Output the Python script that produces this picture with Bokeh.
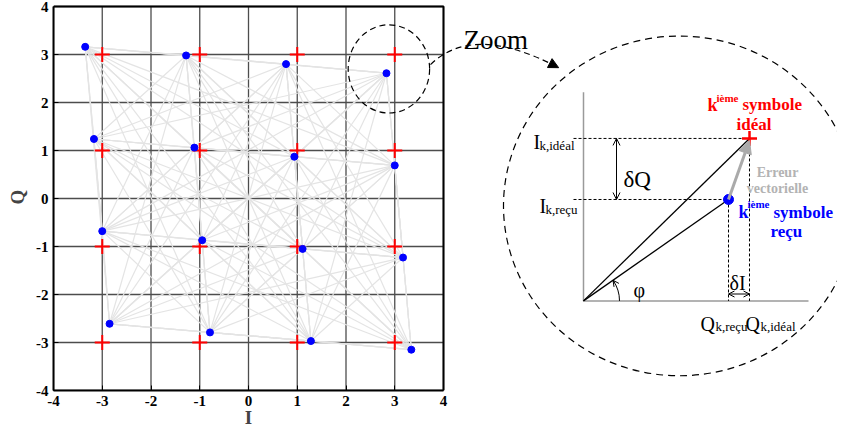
import math
from bokeh.plotting import figure
from bokeh.models import FixedTicker, Arrow, NormalHead, OpenHead
from bokeh.core.properties import value
from bokeh.embed import file_html
from bokeh.resources import INLINE

# ---------------- data ----------------
ticks = [-4, -3, -2, -1, 0, 1, 2, 3, 4]
tick_labels = ["-4", "-3", "-2", "-1", "0", "1", "2", "3", "4"]

ideal_I = [-3, -1, 1, 3, -3, -1, 1, 3, -3, -1, 1, 3, -3, -1, 1, 3]
ideal_Q = [3, 3, 3, 3, 1, 1, 1, 1, -1, -1, -1, -1, -3, -3, -3, -3]

recv_I = [-3.35, -1.28, 0.77, 2.83, -3.17, -1.11, 0.94, 3.00,
          -3.00, -0.95, 1.11, 3.17, -2.85, -0.79, 1.28, 3.34]
recv_Q = [3.16, 2.98, 2.80, 2.61, 1.24, 1.06, 0.87, 0.69,
          -0.68, -0.87, -1.05, -1.23, -2.61, -2.79, -2.97, -3.15]

zoom_center = (2.88, 2.70)
zoom_size = (1.67, 1.84)

FONT = "Liberation Serif"

# ---------------- figure ----------------
W, H = 837, 432
BL, BT, BB = 53, 3, 42
SX = 390 / 8.0                      # px per unit horizontally
SY = (H - BT - BB - 3) / 8.0        # px per unit vertically
TOP_PAD = 3 / SY
x_end = -4 + (W - BL) / SX

p = figure(width=W, height=H, x_range=(-4, x_end), y_range=(-4, 4 + TOP_PAD),
           output_backend="svg", toolbar_location=None,
           min_border_left=BL, min_border_right=0, min_border_top=BT,
           min_border_bottom=BB)
p.outline_line_color = None
p.grid.visible = False
p.background_fill_color = "white"
p.border_fill_color = "white"

for ax in (p.xaxis[0], p.yaxis[0]):
    ax.ticker = FixedTicker(ticks=ticks)
    ax.major_label_overrides = {t: l for t, l in zip(ticks, tick_labels)}
    ax.bounds = (-4, 4)
    ax.major_label_text_font = FONT
    ax.major_label_text_font_style = "bold"
    ax.major_label_text_font_size = "15px"
    ax.major_label_text_color = "black"
    ax.major_tick_in = 5
    ax.major_tick_out = 0
    ax.major_tick_line_color = "black"
    ax.minor_tick_line_color = None
    ax.axis_line_color = "black"
    ax.axis_line_width = 2
    ax.axis_label_text_font = FONT
    ax.axis_label_text_font_style = "bold"
    ax.axis_label_text_font_size = "19px"

p.yaxis.major_label_standoff = 5
p.yaxis.axis_label = "Q"
p.yaxis.axis_label_standoff = 5
p.xaxis.major_label_standoff = 5
# the x-axis title is centred on the whole frame (which also holds the inset);
# pad it with no-break spaces so that "I" sits under I = 0
p.xaxis.axis_label = "I" + "\u00a0" * 83
p.xaxis.axis_label_standoff = -2


def L(rx, ry):
    """layout helper for the schematic: reference-pixel position -> data coordinates"""
    return (-4 + (rx - 53) / SX, 4 - (ry - 13) / SX)


# grid
p.segment(x0=ticks, y0=[-4] * len(ticks), x1=ticks, y1=[4] * len(ticks),
          line_color="#4d4d4d", line_width=1.3)
p.segment(x0=[-4] * len(ticks), y0=ticks, x1=[4] * len(ticks), y1=ticks,
          line_color="#4d4d4d", line_width=1.3)

# light gray trajectories between received symbols
xs, ys = [], []
n = len(recv_I)
for i in range(n):
    for j in range(i + 1, n):
        xs.append([recv_I[i], recv_I[j]])
        ys.append([recv_Q[i], recv_Q[j]])
p.multi_line(xs, ys, line_color="#e4e4e4", line_width=1.2)

# frame top/right
p.line(x=[-4, 4, 4], y=[4, 4, -4], line_color="black", line_width=2)

p.scatter(ideal_I, ideal_Q, marker="cross", size=15, line_color="red", line_width=2)
p.scatter(recv_I, recv_Q, marker="circle", size=7, fill_color="blue", line_color="blue")

# small dashed ellipse
p.ellipse(x=[zoom_center[0]], y=[zoom_center[1]], width=[zoom_size[0]], height=[zoom_size[1]],
          fill_color=None, line_color="black", line_dash="6 4", line_width=1.2)

# ---------------- zoom inset ----------------
# curved dashed arrow
a0 = L(430, 72); ac = L(472, 30); a1 = L(556, 74)
p.quadratic(x0=[a0[0]], y0=[a0[1]], x1=[a1[0]], y1=[a1[1]], cx=[ac[0]], cy=[ac[1]],
            line_color="black", line_dash="6 4", line_width=1.2)
dx, dy = a1[0] - ac[0], a1[1] - ac[1]
dn = math.hypot(dx, dy)
p.add_layout(Arrow(end=NormalHead(size=10, fill_color="black", line_color="black"),
                   x_start=a1[0] - 0.1 * dx / dn, y_start=a1[1] - 0.1 * dy / dn,
                   x_end=a1[0] + 0.05 * dx / dn, y_end=a1[1] + 0.05 * dy / dn,
                   line_color="black", line_width=1))

# big dashed circle
bc = L(679, 215.5)
p.ellipse(x=[bc[0]], y=[bc[1]], width=[352 / SX], height=[345 / SX],
          fill_color=None, line_color="black", line_dash="7 5", line_width=1.2)

O = L(583, 312)
T = L(749, 147)
R = L(728, 209)

# inset axes
p.line(x=[O[0], O[0], L(808, 0)[0]], y=[L(0, 100)[1], O[1], O[1]],
       line_color="#9a9a9a", line_width=1.5)
# dashed projections
lx = L(573, 0)[0]
p.multi_line(xs=[[lx, T[0]], [lx, R[0]], [R[0], R[0]], [T[0], T[0]]],
             ys=[[T[1], T[1]], [R[1], R[1]], [R[1], O[1]], [T[1], O[1]]],
             line_color="black", line_dash="3 2", line_width=1)
# vectors from origin
p.multi_line(xs=[[O[0], T[0]], [O[0], R[0]]], ys=[[O[1], T[1]], [O[1], R[1]]],
             line_color="black", line_width=1.3)
# error vector
p.add_layout(Arrow(end=NormalHead(size=13, fill_color="#aaaaaa", line_color="#aaaaaa"),
                   x_start=R[0], y_start=R[1], x_end=T[0], y_end=L(0, 149)[1],
                   line_color="#aaaaaa", line_width=3))
# dQ
qx = L(616, 0)[0]
p.add_layout(Arrow(start=OpenHead(size=7, line_width=1), end=OpenHead(size=7, line_width=1),
                   x_start=qx, y_start=T[1], x_end=qx, y_end=R[1], line_width=1))
# dI
iy = L(0, 305)[1]
p.add_layout(Arrow(start=OpenHead(size=6, line_width=1), end=OpenHead(size=6, line_width=1),
                   x_start=R[0], y_start=iy, x_end=T[0], y_end=iy, line_width=1))
# phi arc
ang = math.atan2((R[1] - O[1]) * SY, (R[0] - O[0]) * SX)
rad = 36 / SX
p.arc(x=[O[0]], y=[O[1]], radius=[rad], start_angle=[0], end_angle=[ang],
      line_color="black", line_width=1)
ex, ey = O[0] + rad * math.cos(ang), O[1] + rad * math.sin(ang) * SX / SY
tx, ty = -math.sin(ang), math.cos(ang)
p.add_layout(Arrow(end=OpenHead(size=6, line_width=1), x_start=ex - 0.06 * tx, y_start=ey - 0.06 * ty,
                   x_end=ex, y_end=ey, line_width=1))

p.scatter([T[0]], [T[1]], marker="cross", size=15, line_color="red", line_width=2.5)
p.scatter([R[0]], [R[1]], marker="circle", size=10, fill_color="blue", line_color="blue")


def txt(s, rx, ry, size, color="black", style="normal", align="left", baseline="alphabetic"):
    x, y = L(rx, ry)
    p.text(x=[x], y=[y], text=[s], text_font=value(FONT), text_font_size=value(f"{size}px"),
           text_color=value(color), text_font_style=value(style), text_align=value(align),
           text_baseline=value(baseline))


txt("Zoom", 463, 47, 27)
txt("I", 533, 151, 20)
txt("k,idéal", 539, 154, 13)
txt("I", 539, 216, 20)
txt("k,reçu", 545, 219, 13)
txt("δQ", 623, 189, 23)
txt("δI", 729, 294, 20)
txt("φ", 633, 301, 20, baseline="middle")
txt("Q", 700, 335, 20)
txt("k,reçu", 715, 338, 13)
txt("Q", 745, 335, 20)
txt("k,idéal", 760, 338, 13)

txt("k", 707, 113, 18, "red", "bold")
txt("ième", 716, 106, 11, "red", "bold")
txt("symbole", 742, 113, 17, "red", "bold")
txt("idéal", 736, 133, 17, "red", "bold")

txt("Erreur", 777, 182, 14, "#b3b3b3", "bold", "center")
txt("vectorielle", 777, 198, 14, "#b3b3b3", "bold", "center")

txt("k", 738, 222, 18, "blue", "bold")
txt("ième", 747, 214, 11, "blue", "bold")
txt("symbole", 773, 222, 17, "blue", "bold")
txt("reçu", 770, 242, 17, "blue", "bold")

open("out.html", "w").write(file_html(p, INLINE))
